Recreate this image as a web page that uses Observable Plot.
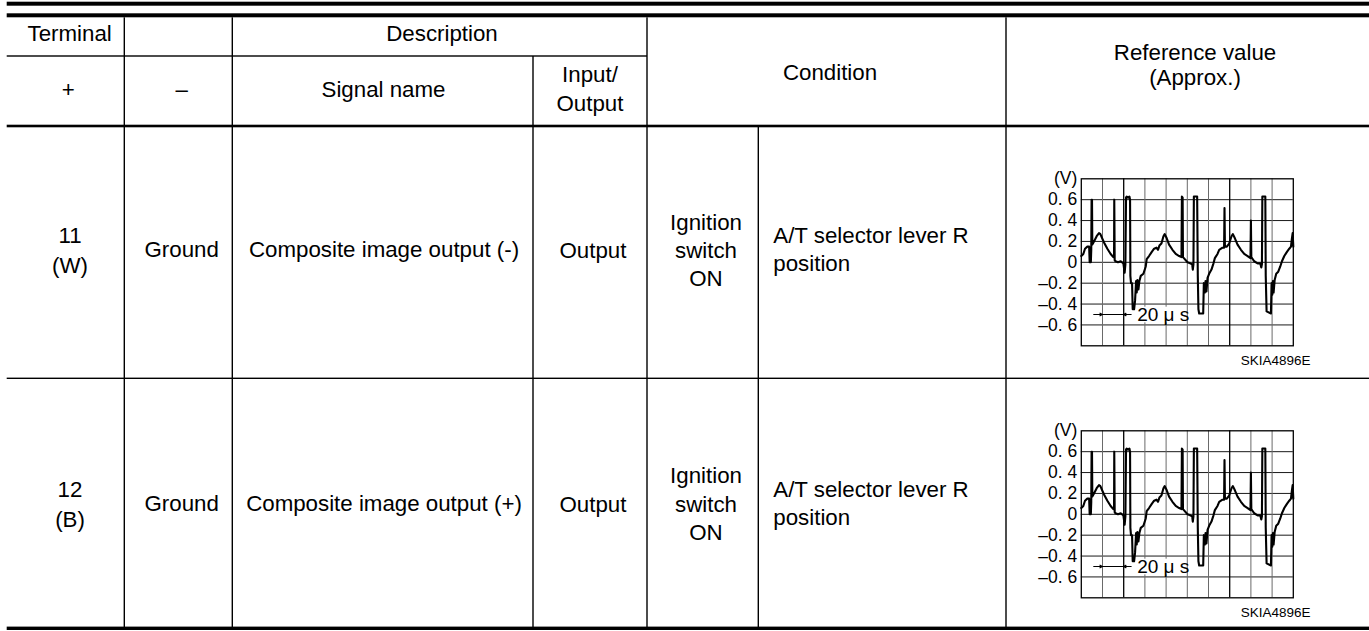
<!DOCTYPE html>
<html>
<head>
<meta charset="utf-8">
<script src="https://cdn.jsdelivr.net/npm/d3@7"></script>
<script src="https://cdn.jsdelivr.net/npm/@observablehq/plot@0.6"></script>
<style>
  html, body { margin: 0; padding: 0; background: #fff; }
  #page { position: relative; width: 1369px; height: 631px; overflow: hidden; background: #fff;
          font-family: "Liberation Sans", Arial, sans-serif; color: #000; }
  .scope { position: absolute; z-index: 1; width: 363px; }
  #table { position: absolute; left: 0; top: 0; z-index: 2; pointer-events: none; }
</style>
</head>
<body>
<div id="page"></div>
<script>
// ---------------- data ----------------
const headerTop = ["Terminal", "Description"];
const headerSub = ["+", "–", "Signal name", "Input/\nOutput"];
const headerCondition = "Condition";
const headerReference = "Reference value\n(Approx.)";

const terminalPlus = ["11\n(W)", "12\n(B)"];
const terminalMinus = ["Ground", "Ground"];
const signalNames = ["Composite image output (-)", "Composite image output (+)"];
const ioTypes = ["Output", "Output"];
const conditionSwitch = ["Ignition\nswitch\nON", "Ignition\nswitch\nON"];
const conditionLever = ["A/T selector lever R\nposition", "A/T selector lever R\nposition"];
const chartCode = "SKIA4896E";

// oscilloscope trace (time in µs, 20 µs per division; voltage in V)
const traceTime = [
  0, 1.9, 3.5, 5.7, 7.4, 7.9, 9.0, 9.4, 9.7, 10.1, 10.4, 12.0, 14.5, 16.7, 18.0, 21.4, 24.6, 27.7, 30.2, 30.9,
  31.1, 31.5, 32.3, 34.6, 37.2, 39.7, 40.9, 41.6, 42.2, 42.8, 44.1, 45.4, 46.0, 46.3, 46.9, 47.9, 48.5, 49.8,
  50.7, 51.7, 52.3, 52.9, 53.9, 54.8, 56.1, 58.6, 60.8, 61.7, 63.9, 66.5, 68.7, 70.9, 72.4, 73.7, 75.6, 77.5,
  78.7, 80.6, 82.8, 86.0, 89.1, 92.3, 94.5, 94.9, 95.6, 95.9, 97.6, 100.2, 102.7, 104.6, 105.2, 105.8, 106.2,
  109.3, 109.9, 110.5, 111.2, 115.0, 115.6, 116.5, 117.2, 118.1, 119.1, 120.6, 122.8, 124.7, 126.0, 128.5,
  130.1, 133.2, 134.7, 135.1, 135.5, 137.3, 139.5, 141.7, 143.0, 144.9, 147.4, 150.6, 153.7, 156.9, 159.6,
  160.0, 160.4, 163.1, 166.3, 168.8, 169.8, 170.4, 170.8, 173.6, 174.0, 174.8, 178.9, 179.5, 180.2, 180.8,
  181.4, 182.4, 183.9, 185.8, 187.7, 189.3, 191.5, 194.0, 196.2, 197.8, 198.7, 199.4, 200
];
const traceVolts = [
  0.06, 0.08, 0.13, 0.15, 0.15, 0.00, 0.00, 0.12, 0.60, 0.60, 0.17, 0.20, 0.25, 0.28, 0.27, 0.19, 0.13, 0.08, 0.05, 0.05,
  0.60, 0.02, 0.01, 0.00, 0.01, -0.01, -0.10, -0.02, 0.62, 0.63, 0.62, 0.63, 0.60, -0.13, -0.20, -0.20, -0.45, -0.45,
  -0.37, -0.18, -0.29, -0.17, -0.26, -0.18, -0.13, -0.11, -0.04, 0.03, 0.06, 0.10, 0.13, 0.14, 0.12, 0.16, 0.18, 0.25,
  0.27, 0.23, 0.17, 0.12, 0.08, 0.06, 0.05, 0.63, 0.62, 0.05, 0.03, 0.00, -0.01, -0.02, -0.07, -0.02, 0.63,
  0.63, -0.13, -0.45, -0.49, -0.49, -0.20, -0.29, -0.18, -0.28, -0.15, -0.11, -0.07, -0.01, 0.04, 0.08,
  0.12, 0.14, 0.14, 0.52, 0.15, 0.15, 0.18, 0.25, 0.27, 0.23, 0.17, 0.12, 0.08, 0.06, 0.04,
  0.40, 0.05, 0.01, -0.01, -0.01, -0.05, -0.02, 0.63, 0.63, -0.13, -0.47, -0.49, -0.20, -0.31, -0.18,
  -0.29, -0.17, -0.11, -0.09, -0.04, 0.01, 0.06, 0.10, 0.13, 0.15, 0.23, 0.28, 0.15
];

const voltTicks = [0.8, 0.6, 0.4, 0.2, 0, -0.2, -0.4, -0.6];
const voltTickLabels = ["(V)", "0. 6", "0. 4", "0. 2", "0", "–0. 2", "–0. 4", "–0. 6"];
const voltGrid = [0.6, 0.4, 0.2, 0, -0.2, -0.4, -0.6];
const timeGrid = [20, 60, 80, 100, 120, 160, 180];
const timeGridMajor = [40, 140];
const scaleArrows = [{from: 12, to: 20}, {from: 47, to: 40}];
const scaleLabel = "20 μ s";

// ---------------- layout ----------------
const FS = 22.3;
const L = 6.7, R = 1369;
const hRules = [
  {x1: L, x2: R, y: 3.7, w: 4},
  {x1: L, x2: R, y: 15.3, w: 4},
  {x1: L, x2: 647, y: 56, w: 1.4},
  {x1: L, x2: R, y: 126, w: 2.6},
  {x1: L, x2: R, y: 378.3, w: 1.4},
  {x1: L, x2: R, y: 628.3, w: 3.4}
];
const vRules = [
  {x: 124.3, y1: 17.3, y2: 628},
  {x: 232.3, y1: 17.3, y2: 628},
  {x: 533, y1: 56, y2: 628},
  {x: 647, y1: 17.3, y2: 628},
  {x: 758.3, y1: 126, y2: 628},
  {x: 1006, y1: 17.3, y2: 628}
];
const rowCenters = [250, 503.8];
const chartTops = [126, 378];

const cells = [
  {text: headerTop[0], x: 69.7, y: 32.8},
  {text: headerTop[1], x: 442, y: 32.8},
  {text: headerSub[0], x: 68.3, y: 89.5},
  {text: headerSub[1], x: 181.7, y: 89.5},
  {text: headerSub[2], x: 383.5, y: 89.5},
  {text: headerSub[3], x: 590, y: 88.3, lh: 29},
  {text: headerCondition, x: 830, y: 72.2},
  {text: headerReference, x: 1195, y: 64.5, lh: 24.5}
];
rowCenters.forEach((cy, i) => {
  cells.push({text: terminalPlus[i], x: 70, y: cy, lh: 29.5});
  cells.push({text: terminalMinus[i], x: 181.7, y: cy - 0.5});
  cells.push({text: signalNames[i], x: 384, y: cy - 0.5});
  cells.push({text: ioTypes[i], x: 593, y: cy});
  cells.push({text: conditionSwitch[i], x: 706, y: cy, lh: 28.3});
  cells.push({text: conditionLever[i], x: 773.3, y: cy - 0.8, lh: 28.3, anchor: "start"});
});

const page = d3.select("#page");

// ---------------- oscilloscope charts (Observable Plot) ----------------
const labelFor = new Map(voltTicks.map((v, i) => [v, voltTickLabels[i]]));
function scope() {
  return Plot.plot({
    width: 363,
    height: 252,
    marginLeft: 74.8,
    marginRight: 76.2,
    marginTop: 52.3,
    marginBottom: 32.7,
    x: {domain: [0, 200], axis: null},
    y: {domain: [-0.8, 0.8], axis: null},
    style: {background: "transparent", fontFamily: "'Liberation Sans', Arial, sans-serif", fontSize: "17.5px", overflow: "visible", color: "#000"},
    marks: [
      Plot.ruleY(voltGrid, {stroke: "#1a1a1a", strokeWidth: 1}),
      Plot.ruleX(timeGrid, {stroke: "#6a6a6a", strokeWidth: 1}),
      Plot.ruleX(timeGridMajor, {stroke: "#000", strokeWidth: 1.3}),
      Plot.frame({stroke: "#000", strokeWidth: 1.3}),
      Plot.rect([scaleLabel], {x1: 52, x2: 99, y1: -0.58, y2: -0.43, fill: "white"}),
      Plot.ruleY([-0.5], {x1: scaleArrows[0].from, x2: scaleArrows[1].from, stroke: "#000", strokeWidth: 1.2}),
      Plot.arrow(scaleArrows, {x1: "from", x2: "to", y1: -0.5, y2: -0.5, headLength: 6, headAngle: 55, stroke: "#000", strokeWidth: 1.2}),
      Plot.line(traceVolts, {x: traceTime, y: traceVolts, stroke: "#000", strokeWidth: 2.1, strokeLinejoin: "round"}),
      Plot.text([scaleLabel], {x: 52.7, y: -0.5, text: d => d, textAnchor: "start", lineAnchor: "middle", fontSize: 19, fill: "#000"}),
      Plot.axisY({ticks: voltTicks, tickFormat: d => labelFor.get(d), tickSize: 0, tickPadding: 4, label: null, fontSize: 17.5, fill: "#000"}),
      Plot.text([chartCode], {frameAnchor: "bottom-right", text: d => d, dx: 17.2, dy: 14.5, textAnchor: "end", lineAnchor: "middle", fontSize: 13.5, fill: "#000"})
    ]
  });
}
chartTops.forEach(top => {
  const div = page.append("div").attr("class", "scope").style("left", "1006px").style("top", top + "px");
  div.node().appendChild(scope());
});

// ---------------- table frame and cell text ----------------
const svg = page.append("svg").attr("id", "table").attr("width", 1369).attr("height", 631);
svg.selectAll("rect.h").data(hRules).join("rect").attr("class", "h")
  .attr("x", d => d.x1).attr("y", d => d.y - d.w / 2).attr("width", d => d.x2 - d.x1).attr("height", d => d.w)
  .attr("fill", "#000");
svg.selectAll("rect.v").data(vRules).join("rect").attr("class", "v")
  .attr("x", d => d.x - 0.7).attr("y", d => d.y1).attr("width", 1.4).attr("height", d => d.y2 - d.y1)
  .attr("fill", "#000");

cells.forEach(c => {
  const lines = c.text.split("\n");
  const lh = c.lh || 28;
  const n = lines.length;
  const t = svg.append("text")
    .attr("font-family", "'Liberation Sans', Arial, sans-serif")
    .attr("font-size", FS)
    .attr("fill", "#000")
    .attr("text-anchor", c.anchor || "middle");
  lines.forEach((s, k) => {
    t.append("tspan").attr("x", c.x)
      .attr("y", c.y + (k - (n - 1) / 2) * lh + 0.358 * FS)
      .text(s);
  });
});
</script>
</body>
</html>
